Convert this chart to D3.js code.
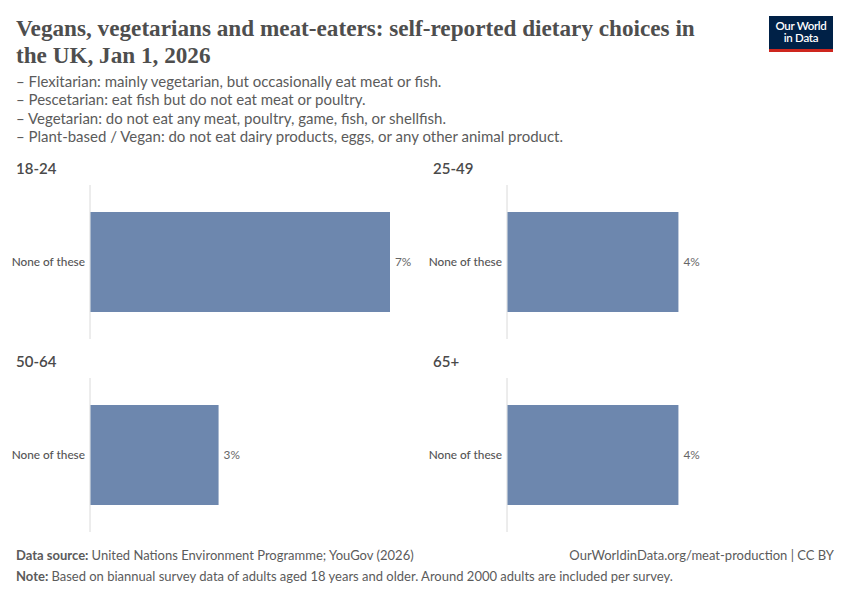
<!DOCTYPE html>
<html>
<head>
<meta charset="utf-8">
<script src="https://cdn.jsdelivr.net/npm/d3@7"></script>
<style>
  body { margin: 0; background: #fff; }
  svg { display: block; font-family: Lato, "Noto Sans", sans-serif; }
</style>
</head>
<body>
<div id="chart"></div>
<script>
// data
var ageGroups = ["18-24", "25-49", "50-64", "65+"]
var categories = ["None of these"]
var shares = [7, 4, 3, 4]

var titleLines = ["Vegans, vegetarians and meat-eaters: self-reported dietary choices in",
                  "the UK, Jan 1, 2026"]
var subtitleLines = [
  "– Flexitarian: mainly vegetarian, but occasionally eat meat or fish.",
  "– Pescetarian: eat fish but do not eat meat or poultry.",
  "– Vegetarian: do not eat any meat, poultry, game, fish, or shellfish.",
  "– Plant-based / Vegan: do not eat dairy products, eggs, or any other animal product."
]

var width = 850, height = 600
var svg = d3.select("#chart").append("svg")
    .attr("width", width)
    .attr("height", height)

// header
svg.selectAll("text.title")
    .data(titleLines)
  .enter().append("text")
    .attr("class", "title")
    .attr("x", 16)
    .attr("y", function(d, i) { return 36 + i * 27 })
    .style("font-family", "'Liberation Serif', 'DejaVu Serif', serif")
    .style("font-weight", 700)
    .style("font-size", "23.2px")
    .style("fill", "#4e4e4e")
    .text(function(d) { return d })

svg.selectAll("text.subtitle")
    .data(subtitleLines)
  .enter().append("text")
    .attr("class", "subtitle")
    .attr("x", 16)
    .attr("y", function(d, i) { return 87 + i * 18.3 })
    .style("font-size", "15px")
    .style("fill", "#5b5b5b")
    .text(function(d) { return d })

// logo
var logo = svg.append("g").attr("transform", "translate(769,16)")
logo.append("rect").attr("width", 64).attr("height", 36).attr("fill", "#002147")
logo.append("rect").attr("y", 33).attr("width", 64).attr("height", 3).attr("fill", "#ce261e")
logo.selectAll("text")
    .data(["Our World", "in Data"])
  .enter().append("text")
    .attr("x", 32)
    .attr("y", function(d, i) { return 14 + i * 12 })
    .attr("text-anchor", "middle")
    .style("font-size", "11.5px")
    .style("font-weight", 600)
    .style("letter-spacing", "-0.3px")
    .style("fill", "#fff")
    .text(function(d) { return d })

// facets
var x = d3.scaleLinear().domain([0, 7]).range([0, 300])
var colX = [90, 507], rowY = [185, 378]
var panelH = 154

ageGroups.forEach(function(group, i) {
    var gx = colX[i % 2], gy = rowY[Math.floor(i / 2)]
    var g = svg.append("g").attr("transform", "translate(" + gx + "," + gy + ")")
    var y = d3.scaleBand().domain(categories).range([0, panelH]).paddingInner(0).paddingOuter(0.27)

    g.append("text")
        .attr("x", -74)
        .attr("y", -11)
        .style("font-size", "15px")
        .style("font-weight", 600)
        .style("fill", "#4a4a4a")
        .text(group)

    g.append("line")
        .attr("x1", 0).attr("x2", 0)
        .attr("y1", 0).attr("y2", panelH)
        .style("stroke", "#dadada")
        .style("stroke-width", 1)

    var d = [{cat: categories[0], v: shares[i]}]
    g.selectAll("rect.bar")
        .data(d)
      .enter().append("rect")
        .attr("class", "bar")
        .attr("x", 0.5)
        .attr("y", function(r) { return y(r.cat) })
        .attr("width", function(r) { return x(r.v) - 0.5 })
        .attr("height", y.bandwidth())
        .style("fill", "#6d87ae")

    g.selectAll("text.cat")
        .data(d)
      .enter().append("text")
        .attr("class", "cat")
        .attr("x", -5)
        .attr("y", function(r) { return y(r.cat) + y.bandwidth() / 2 })
        .attr("dy", "0.35em")
        .attr("text-anchor", "end")
        .style("font-size", "11.8px")
        .style("font-weight", 500)
        .style("fill", "#555")
        .text(function(r) { return r.cat })

    g.selectAll("text.val")
        .data(d)
      .enter().append("text")
        .attr("class", "val")
        .attr("x", function(r) { return x(r.v) + 5 })
        .attr("y", function(r) { return y(r.cat) + y.bandwidth() / 2 })
        .attr("dy", "0.35em")
        .style("font-size", "11.8px")
        .style("fill", "#666")
        .text(function(r) { return r.v + "%" })
})

// footer
var src = svg.append("text").attr("x", 16).attr("y", 560).style("font-size", "13px").style("fill", "#5b5b5b")
src.append("tspan").style("font-weight", 700).text("Data source: ")
src.append("tspan").text("United Nations Environment Programme; YouGov (2026)")

svg.append("text")
    .attr("x", 834).attr("y", 560)
    .attr("text-anchor", "end")
    .style("font-size", "13px")
    .style("fill", "#5b5b5b")
    .text("OurWorldinData.org/meat-production | CC BY")

var note = svg.append("text").attr("x", 16).attr("y", 581).style("font-size", "13px").style("fill", "#5b5b5b")
note.append("tspan").style("font-weight", 700).text("Note: ")
note.append("tspan").text("Based on biannual survey data of adults aged 18 years and older. Around 2000 adults are included per survey.")
</script>
</body>
</html>
